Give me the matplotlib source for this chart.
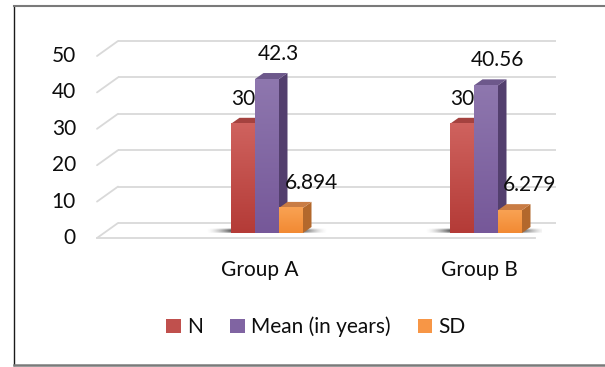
import numpy as np
import matplotlib.pyplot as plt
from matplotlib.patches import Polygon, Patch
from matplotlib.lines import Line2D
from matplotlib.colors import LinearSegmentedColormap

plt.rcParams['font.family'] = ['Lato', 'DejaVu Sans']

groups = ['Group A', 'Group B']
series = ['N', 'Mean (in years)', 'SD']
n_vals = [30, 30]
mean_vals = [42.3, 40.56]
sd_vals = [6.894, 6.279]
yticks = [0, 10, 20, 30, 40, 50]

# front / top / side shades for each series
front_top = ['#cf625e', '#8e77ae', '#f9a253']
front_bot = ['#b43b37', '#765899', '#f28a33']
top_col = ['#a4423f', '#6d588b', '#c97c44']
side_col = ['#8a302d', '#533f6e', '#b3682c']
legend_col = ['#c0504d', '#8064a2', '#f79646']
label_dx = [0, 11, 20]  # px, data label shift per series

FS = 15
TXT = '#0d0d0d'
GRID = '#d9d9d9'

W, H = 605, 367
fig = plt.figure(figsize=(W / 100, H / 100), dpi=100)
ax = fig.add_axes([104 / W, (H - 233) / H, 438 / W, 182 / H])
x0, x1 = (104 - 267) / 219, (542 - 267) / 219
ax.set_xlim(x0, x1)
ax.set_ylim(0, 50)
ax.axis('off')

sx = (x1 - x0) / 438   # data units per pixel
sy = 50 / 182

WALL = (14, 10)    # back wall offset from bar front plane, px
FLOOR = (-7, -5)   # front edge of floor
DEPTH = (8.5, 6)   # bar depth


def shift(x, y, d):
    return (x + d[0] * sx, y + d[1] * sy)


# walls and gridlines
for t in yticks:
    bx0, by = shift(x0, t, WALL)
    bx1, _ = shift(x1, t, WALL)
    fx0, fy = shift(x0, t, FLOOR)
    ax.plot([bx0, bx1], [by, by], color=GRID, lw=1.3, zorder=1,
            clip_on=False, solid_capstyle='butt')
    ax.plot([bx0, fx0], [by, fy], color=GRID, lw=1.3, zorder=1,
            clip_on=False, solid_capstyle='round')
    ax.text(fx0 - 21 * sx, fy, str(t), ha='right', va='center',
            fontsize=FS, color=TXT)
fx0, fy = shift(x0, 0, FLOOR)
fx1, _ = shift(x1, 0, FLOOR)
ax.plot([fx0, fx1], [fy, fy], color=GRID, lw=1.3, zorder=1, clip_on=False)

bw = 24 * sx
data = [n_vals, mean_vals, sd_vals]

for j, g in enumerate(groups):
    gl = j - 1.5 * bw
    gr = j + 1.5 * bw
    # soft shadow on the floor behind the bars
    xs = np.linspace(-25, (gr - gl) / sx + 24, 200)
    inside = (xs >= 0) & (xs <= (gr - gl) / sx)
    dist = np.where(xs < 0, -xs, np.where(inside, 0, xs - (gr - gl) / sx))
    a = 0.8 * np.clip(1 - dist / 25, 0, 1) ** 1.6
    ys = np.linspace(0, 1, 12)
    prof = np.sin(np.pi * ys) ** 0.7
    alpha = prof[:, None] * a[None, :]
    img = np.zeros((len(ys), len(xs), 4))
    img[..., :3] = 0.2
    img[..., 3] = alpha
    ax.imshow(img, extent=(gl - 25 * sx, gr + 24 * sx, -0.5 * sy, 5 * sy),
              origin='lower', aspect='auto', zorder=2, interpolation='bilinear')

    for i, s in enumerate(series):
        v = data[i][j]
        xl = j + (i - 1) * bw - bw / 2
        xr = xl + bw
        z = 3 + i * 0.1
        side = [(xr, 0), (xr, v), shift(xr, v, DEPTH), shift(xr, 0, DEPTH)]
        top = [(xl, v), (xr, v), shift(xr, v, DEPTH), shift(xl, v, DEPTH)]
        ax.add_patch(Polygon(side, closed=True, facecolor=side_col[i],
                             edgecolor='none', zorder=z, clip_on=False))
        ax.add_patch(Polygon(top, closed=True, facecolor=top_col[i],
                             edgecolor='none', zorder=z + 0.01, clip_on=False))
        cmap = LinearSegmentedColormap.from_list(s, [front_bot[i], front_top[i]])
        ax.imshow(np.linspace(0, 1, 64).reshape(-1, 1), extent=(xl, xr, 0, v),
                  origin='lower', cmap=cmap, aspect='auto', zorder=z + 0.02,
                  interpolation='bilinear')
        ax.text(xl + bw / 2 + label_dx[i] * sx, v + 25 * sy, f'{v:g}',
                ha='center', va='center', fontsize=FS, color=TXT, zorder=6)

    cx, cy = shift(j, 0, FLOOR)
    ax.text(cx, cy - 32 * sy, g, ha='center', va='center', fontsize=FS,
            color=TXT)

ax.set_xlim(x0, x1)
ax.set_ylim(0, 50)

handles = [Patch(facecolor=c, edgecolor='none', label=s)
           for c, s in zip(legend_col, series)]
fig.legend(handles=handles, loc='center', bbox_to_anchor=(316 / W, (H - 327) / H),
           ncol=3, frameon=False, fontsize=FS, handlelength=0.7,
           handleheight=0.7, handletextpad=0.3, columnspacing=1.3,
           labelcolor=TXT)

# chart frame, open on the right
left, top, bottom = 13.5 / W, 1 - 5.5 / H, 1 - 365 / H
fig.add_artist(Line2D([left, left], [bottom, top], color='#1a1a1a', lw=1,
                      transform=fig.transFigure))
fig.add_artist(Line2D([left, 1.0], [top, top], color='#7a7a7a', lw=1.5,
                      transform=fig.transFigure))
fig.add_artist(Line2D([left, 1.0], [bottom, bottom], color='#7a7a7a', lw=1.8,
                      transform=fig.transFigure))

fig.savefig('out.png', dpi=100)
